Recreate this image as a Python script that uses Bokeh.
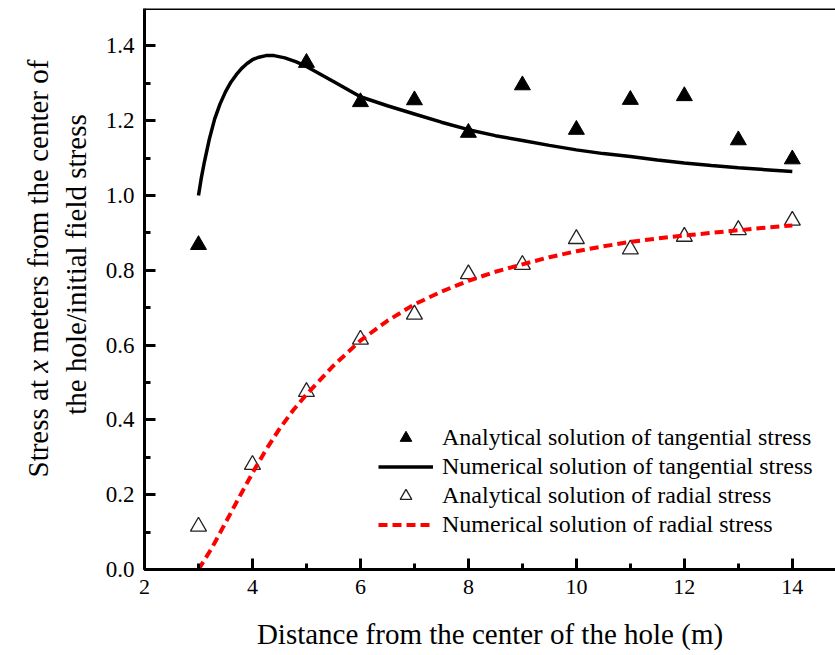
import math
from bokeh.plotting import figure
from bokeh.layouts import row
from bokeh.models import (Range1d, SingleIntervalTicker, PrintfTickFormatter, Span,
                          Legend, LegendItem)
from bokeh.core.properties import value
from bokeh.embed import file_html
from bokeh.resources import INLINE

FONT = "Liberation Serif"

# ---- data ----
tan_x = [3, 5, 6, 7, 8, 9, 10, 11, 12, 13, 14]
tan_analytical = [0.868, 1.355, 1.250, 1.255, 1.168, 1.295, 1.176, 1.256, 1.266, 1.148, 1.097]

rad_x = [3, 4, 5, 6, 7, 8, 9, 10, 11, 12, 13, 14]
rad_analytical = [0.115, 0.280, 0.475, 0.615, 0.682, 0.790, 0.815, 0.884, 0.856, 0.890, 0.908, 0.933]

num_tan_x = [3.0, 3.05, 3.1, 3.2, 3.3, 3.4, 3.5, 3.6, 3.7, 3.8, 3.9, 4.0, 4.1, 4.25, 4.4,
             4.6, 4.8, 5.0, 5.5, 6.0, 6.5, 7.0, 7.5, 8.0, 8.5, 9.0, 9.5, 10.0, 10.5,
             11.0, 11.5, 12.0, 12.5, 13.0, 13.5, 14.0]
num_tan = [1.000, 1.045, 1.083, 1.150, 1.205, 1.245, 1.277, 1.303, 1.323, 1.340, 1.353,
           1.363, 1.369, 1.374, 1.374, 1.368, 1.358, 1.345, 1.305, 1.264, 1.240, 1.218,
           1.196, 1.176, 1.160, 1.147, 1.134, 1.122, 1.112, 1.104, 1.095, 1.087, 1.080,
           1.074, 1.069, 1.064]

num_rad_x = [3.0, 3.25, 3.5, 3.75, 4.0, 4.25, 4.5, 4.75, 5.0, 5.5, 6.0, 6.5, 7.0, 7.5,
             8.0, 8.5, 9.0, 9.5, 10.0, 10.5, 11.0, 11.5, 12.0, 12.5, 13.0, 13.5, 14.0]
num_rad = [0.000, 0.058, 0.125, 0.192, 0.258, 0.320, 0.376, 0.425, 0.468, 0.545, 0.612,
           0.665, 0.709, 0.743, 0.772, 0.796, 0.816, 0.835, 0.851, 0.864, 0.876, 0.885,
           0.893, 0.900, 0.907, 0.914, 0.920]

labels = ["Analytical solution of tangential stress",
          "Numerical solution of tangential stress",
          "Analytical solution of radial stress",
          "Numerical solution of radial stress"]

x_label = "Distance from the center of the hole (m)"
y_label_1 = ["Stress at", "x", "meters from the center of"]
y_label_1_styles = ["normal", "italic", "normal"]
y_label_2 = "the hole/initial field stress"

X0, X1 = 2, 14.8
Y0, Y1 = 0, 1.5

W, H = 835, 655
LEFT_W = 100          # width of the narrow panel holding the y-axis title
B_TOP, B_BOTTOM = 8, 86

# ---- main figure ----
p = figure(width=W - LEFT_W, height=H, output_backend="svg", toolbar_location=None,
           x_range=Range1d(X0, X1), y_range=Range1d(Y0, Y1),
           min_border_left=44, min_border_right=0, min_border_top=B_TOP,
           min_border_bottom=B_BOTTOM)
p.outline_line_color = None
p.xgrid.visible = False
p.ygrid.visible = False
p.background_fill_color = "white"

for ax in (p.xaxis[0], p.yaxis[0]):
    ax.axis_line_width = 3
    ax.axis_line_color = "black"
    ax.major_tick_in = 11
    ax.major_tick_out = 0
    ax.minor_tick_in = 6
    ax.minor_tick_out = 0
    ax.major_tick_line_width = 3
    ax.minor_tick_line_width = 3
    ax.major_tick_line_color = "black"
    ax.minor_tick_line_color = "black"
    ax.major_label_text_font = FONT
    ax.major_label_text_color = "black"

p.xaxis[0].major_label_text_font_size = "22px"
p.yaxis[0].major_label_text_font_size = "23px"
p.xaxis[0].ticker = SingleIntervalTicker(interval=2, num_minor_ticks=2)
p.yaxis[0].ticker = SingleIntervalTicker(interval=0.2, num_minor_ticks=2)
p.yaxis[0].formatter = PrintfTickFormatter(format="%.1f")
p.xaxis[0].major_label_standoff = 10
p.yaxis[0].major_label_standoff = 10

p.xaxis[0].axis_label = x_label
p.xaxis[0].axis_label_text_font = FONT
p.xaxis[0].axis_label_text_font_size = "29px"
p.xaxis[0].axis_label_text_font_style = "normal"
p.xaxis[0].axis_label_text_color = "black"
p.xaxis[0].axis_label_standoff = 21

# top frame line
p.add_layout(Span(location=Y1, dimension="width", line_color="black", line_width=3))

# ---- glyphs ----
r1 = p.scatter(tan_x, tan_analytical, marker="triangle", size=16,
               fill_color="black", line_color="black", line_width=1)
r2 = p.line(num_tan_x, num_tan, line_color="black", line_width=3.5)
r3 = p.scatter(rad_x, rad_analytical, marker="triangle", size=16,
               fill_color=None, line_color="#222222", line_width=1.3)
r4 = p.line(num_rad_x, num_rad, line_color="red", line_width=4, line_dash="9 5")

legend = Legend(items=[LegendItem(label=labels[0], renderers=[r1]),
                       LegendItem(label=labels[1], renderers=[r2]),
                       LegendItem(label=labels[2], renderers=[r3]),
                       LegendItem(label=labels[3], renderers=[r4])],
                location=(234, 30), glyph_width=55, glyph_height=29, label_height=29,
                spacing=0, label_standoff=9, padding=0, margin=0,
                border_line_color=None, background_fill_alpha=0,
                label_text_font=FONT, label_text_font_size="24px",
                label_text_color="black")
p.add_layout(legend, "center")

# ---- narrow left panel carrying the two-line y-axis title (italic x) ----
# its frame is aligned with the main frame (canvas y from B_TOP to H - B_BOTTOM),
# so the range is chosen so that one unit is one pixel, measured from the bottom.
t = figure(width=LEFT_W, height=H, output_backend="svg", toolbar_location=None,
           x_range=Range1d(0, LEFT_W), y_range=Range1d(B_BOTTOM, H - B_TOP),
           x_axis_type=None, y_axis_type=None,
           min_border_left=0, min_border_right=0, min_border_top=B_TOP,
           min_border_bottom=B_BOTTOM)
t.outline_line_color = None
t.xgrid.visible = False
t.ygrid.visible = False

em = 29.0
line1_x = 37
line2_x = 75
start = H - 477
offsets = [0.0, 3.611 * em, 4.305 * em]
for txt, off, st in zip(y_label_1, offsets, y_label_1_styles):
    t.text(x=[line1_x], y=[start + off], text=[txt], angle=math.pi / 2,
           text_align="left", text_baseline="alphabetic", text_font=value(FONT),
           text_font_size=value("29px"), text_font_style=value(st), text_color="black")
t.text(x=[line2_x], y=[H - 264], text=[y_label_2], angle=math.pi / 2,
       text_align="center", text_baseline="alphabetic", text_font=value(FONT),
       text_font_size=value("29px"), text_color="black")

layout = row(t, p)
open("out.html", "w").write(file_html(layout, INLINE))
